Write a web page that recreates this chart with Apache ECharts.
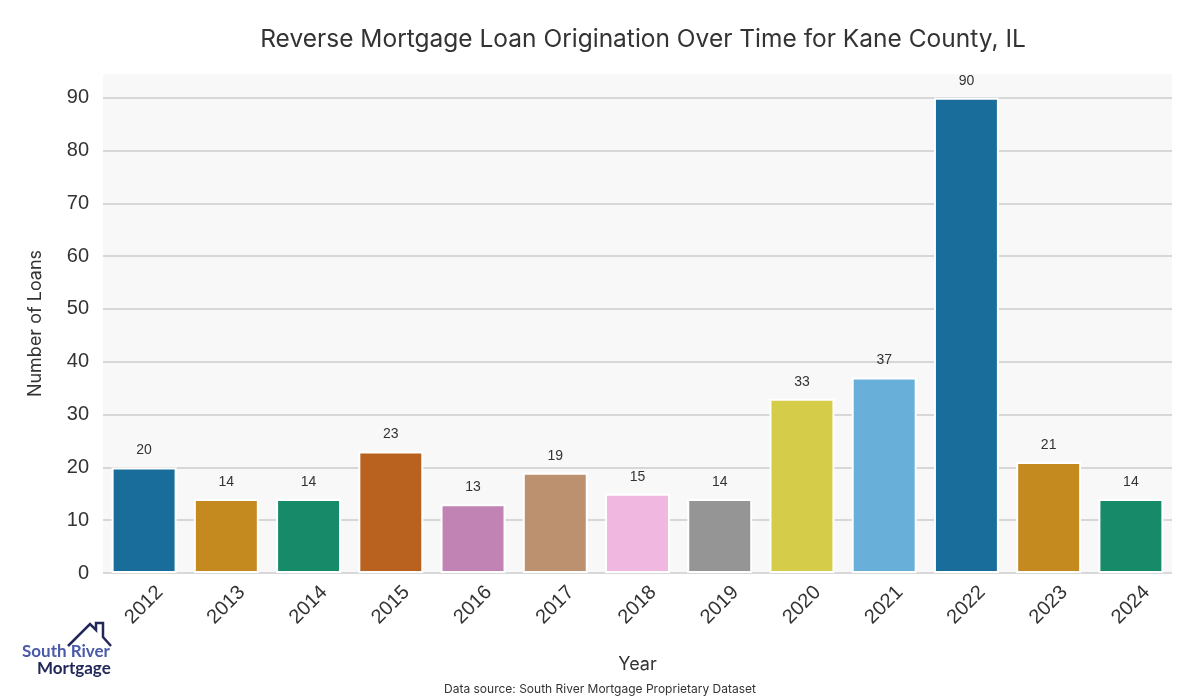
<!DOCTYPE html>
<html><head><meta charset="utf-8">
<script src="https://cdn.jsdelivr.net/npm/echarts@6/dist/echarts.min.js"></script>
<style>html,body{margin:0;padding:0;background:#fff}#c{width:1200px;height:700px}</style>
</head><body><div id="c"></div>
<script>
const categories = ['2012','2013','2014','2015','2016','2017','2018','2019','2020','2021','2022','2023','2024'];
const loans = [20,14,14,23,13,19,15,14,33,37,90,21,14];
const barColors = ['#186d9b','#c4891f','#178b69','#b9611e','#c182b4','#bb9170','#f0b8e0','#959595','#d5cc4a','#68b0d9','#186d9b','#c4891f','#178b69'];
const yTicks = [0,10,20,30,40,50,60,70,80,90];

const chart = echarts.init(document.getElementById('c'), null, {renderer:'canvas'});
chart.setOption({
  backgroundColor:'#ffffff',
  animation:false,
  title:{text:'Reverse Mortgage Loan Origination Over Time for Kane County, IL',left:638,top:22,textAlign:'center',
    textStyle:{fontFamily:'Inter',fontSize:24.5,fontWeight:'normal',color:'#333'}},
  grid:{left:103,right:28,top:74,bottom:127,show:true,backgroundColor:'#f8f8f8',borderWidth:0},
  xAxis:{type:'category',data:categories,
    name:'Year',nameLocation:'middle',nameGap:83,nameTextStyle:{fontFamily:'Inter',fontSize:18,color:'#333'},
    axisLine:{show:false},axisTick:{show:false},
    axisLabel:{rotate:45,align:'center',verticalAlign:'middle',margin:32,fontFamily:'Liberation Sans',fontSize:20,color:'#333',interval:0}},
  yAxis:{type:'value',min:0,max:94.5,interval:10,
    name:'Number of Loans',nameLocation:'middle',nameGap:58,nameTextStyle:{fontFamily:'Inter',fontSize:18,color:'#333'},
    axisLine:{show:false},axisTick:{show:false},
    axisLabel:{fontFamily:'Liberation Sans',fontSize:20,color:'#333',margin:14,showMaxLabel:false,
      formatter:v=>yTicks.includes(v)?String(v):''},
    splitLine:{show:true,showMaxLine:false,lineStyle:{color:'#cccccc',width:1.5}}},
  series:[{type:'bar',barCategoryGap:'21%',
    data:loans.map((v,i)=>({value:v,itemStyle:{color:barColors[i]}})),
    itemStyle:{borderColor:'#ffffff',borderWidth:2},
    label:{show:true,position:'top',distance:10,fontFamily:'Liberation Sans',fontSize:14,color:'#333'}}],
  graphic:[
    {type:'polyline',shape:{points:[[68,646],[90,624],[96,630],[96,623],[103,623],[103,637],[111,646]]},style:{stroke:'#23285a',lineWidth:2.5,fill:null}},
    {type:'text',left:22,top:643,style:{text:'South River',font:'bold 17px Lato',fill:'#4a5aa8'}},
    {type:'text',left:37,top:660,style:{text:'Mortgage',font:'bold 17px Lato',fill:'#23285a'}},
    {type:'text',x:600,y:689,style:{text:'Data source: South River Mortgage Proprietary Dataset',font:'12px Inter',fill:'#333',align:'center',verticalAlign:'middle'}}
  ]
});
</script></body></html>
